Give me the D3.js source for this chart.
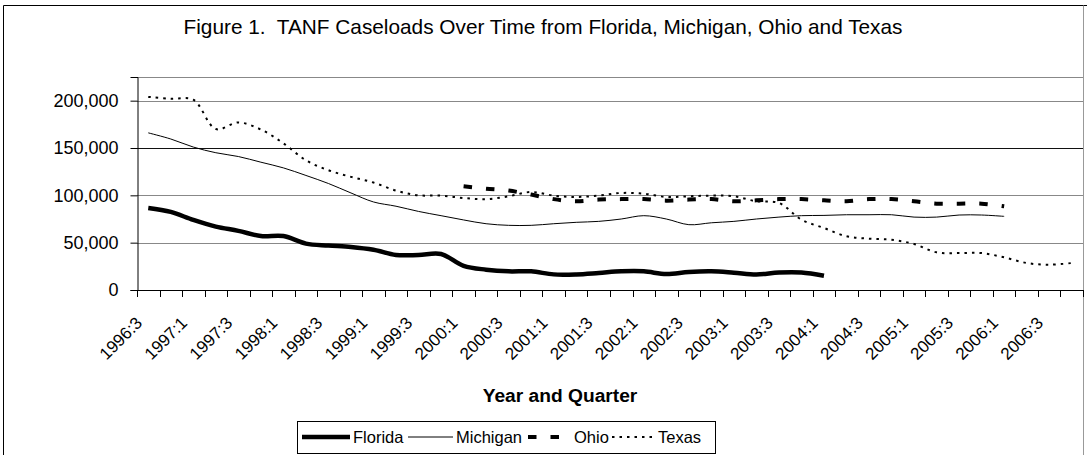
<!DOCTYPE html>
<html>
<head>
<meta charset="utf-8">
<script src="https://cdn.jsdelivr.net/npm/d3@7"></script>
<style>
  body { margin: 0; background: #fff; }
  svg { display: block; font-family: "Liberation Sans", Arial, sans-serif; }
</style>
</head>
<body>
<svg width="1087" height="455"></svg>
<script>
// categories (year:quarter)
var quarters = [
  "1996:3", "1996:4",
  "1997:1", "1997:2", "1997:3", "1997:4",
  "1998:1", "1998:2", "1998:3", "1998:4",
  "1999:1", "1999:2", "1999:3", "1999:4",
  "2000:1", "2000:2", "2000:3", "2000:4",
  "2001:1", "2001:2", "2001:3", "2001:4",
  "2002:1", "2002:2", "2002:3", "2002:4",
  "2003:1", "2003:2", "2003:3", "2003:4",
  "2004:1", "2004:2", "2004:3", "2004:4",
  "2005:1", "2005:2", "2005:3", "2005:4",
  "2006:1", "2006:2", "2006:3", "2006:4"
];

// caseloads (null = no data)
var florida = [86700, 82500, 74000, 67000, 62500, 57000, 57000, 49000, 47000, 45500,
  42500, 37000, 37000, 38000, 25500, 21500, 19700, 19700, 16500, 16500,
  18000, 19700, 19700, 16800, 19000, 19700, 18300, 16500, 18500, 18500, 15000];
var michigan = [166000, 159500, 151000, 145000, 141000, 135000, 129000, 121000, 112500, 102500,
  93000, 88500, 83000, 78500, 74000, 70000, 68300, 68300, 70000, 71500,
  72500, 75000, 78500, 75000, 69000, 71000, 72500, 75000, 77000, 78500,
  78800, 79500, 79500, 79500, 77000, 77000, 79200, 79200, 77800];
var ohio = [null, null, null, null, null, null, null, null, null, null,
  null, null, null, null, 109500, 107000, 105000, 100800, 96000, 93700,
  95500, 96000, 96000, 94400, 95500, 96000, 93700, 94700, 96000, 96000,
  94700, 93700, 96000, 96000, 93700, 91200, 91200, 91200, 88400];
var texas = [204000, 202000, 201000, 170000, 177000, 169500, 155000, 137000, 126500, 119500,
  113500, 105000, 100000, 99700, 97200, 96000, 99000, 103500, 99700, 98300,
  99700, 102500, 101800, 98300, 99000, 99700, 99000, 93700, 92000, 74300,
  65500, 56700, 54200, 53000, 48600, 39800, 39000, 39000, 34500, 28500,
  26700, 28500];

var seriesNames = ["Florida", "Michigan", "Ohio", "Texas"];
var seriesValues = [florida, michigan, ohio, texas];
var yTicks = [0, 50000, 100000, 150000, 200000];

var titleText = "Figure 1.  TANF Caseloads Over Time from Florida, Michigan, Ohio and Texas";
var xTitle = "Year and Quarter";

// line styles per series (legend sample start + length too)
var styles = {
  Florida: { width: 4.5, dash: null, lx: 302, len: 48 },
  Michigan: { width: 1, dash: null, lx: 408, len: 45 },
  Ohio: { width: 4, dash: "8.5,14", lx: 528, len: 43 },
  Texas: { width: 2, dash: "2.5,5", lx: 612, len: 43 }
};

var svg = d3.select("svg");
var plot = { left: 137, right: 1083, top: 77, bottom: 290 };

var xScale = d3.scaleBand(quarters, [plot.left, plot.right]).padding(0);
var yScale = d3.scaleLinear([0, 225000], [plot.bottom, plot.top]);
var cx = function (q) { return xScale(q) + xScale.bandwidth() / 2; };

// outer chart border
svg.append("line").attr("x1", 3.5).attr("x2", 3.5).attr("y1", 5.5).attr("y2", 460)
  .attr("stroke", "#000");
svg.append("line").attr("x1", 3.5).attr("x2", 1087).attr("y1", 5.5).attr("y2", 5.5)
  .attr("stroke", "#000");
svg.append("line").attr("x1", 1083.5).attr("x2", 1083.5).attr("y1", 5.5).attr("y2", 460)
  .attr("stroke", "#999");

// title
svg.append("text")
  .attr("x", 543).attr("y", 34)
  .attr("text-anchor", "middle")
  .style("font-size", "20.8px")
  .style("white-space", "pre")
  .text(titleText);

// plot area top border
svg.append("line")
  .attr("x1", plot.left).attr("x2", plot.right)
  .attr("y1", plot.top + 0.5).attr("y2", plot.top + 0.5)
  .attr("stroke", "#888");

// gridlines
svg.append("g").selectAll("line")
  .data(yTicks.filter(function (d) { return d > 0; }))
  .join("line")
  .attr("x1", plot.left).attr("x2", plot.right)
  .attr("y1", function (d) { return Math.round(yScale(d)) + 0.5; })
  .attr("y2", function (d) { return Math.round(yScale(d)) + 0.5; })
  .attr("stroke", function (d) { return d === 150000 ? "#111" : "#888"; });

// y axis
var yAxis = svg.append("g")
  .attr("transform", "translate(" + (plot.left + 0.5) + ",0)")
  .call(d3.axisLeft(yScale).tickValues(yTicks).tickSize(7).tickPadding(12)
    .tickFormat(d3.format(",")));
yAxis.select(".domain").attr("stroke", "#000");
yAxis.selectAll("text").style("font-size", "18px").style("font-family", "inherit").attr("fill", "#000");

// x axis line and boundary ticks
var boundaries = quarters.map(function (q) { return xScale(q); }).concat([plot.right]);
svg.append("line")
  .attr("x1", plot.left).attr("x2", plot.right)
  .attr("y1", plot.bottom + 0.5).attr("y2", plot.bottom + 0.5)
  .attr("stroke", "#000");
svg.append("g").selectAll("line")
  .data(boundaries)
  .join("line")
  .attr("x1", function (d) { return Math.round(d) + 0.5; })
  .attr("x2", function (d) { return Math.round(d) + 0.5; })
  .attr("y1", plot.bottom).attr("y2", plot.bottom + 7)
  .attr("stroke", "#000");

// rotated labels every other quarter
svg.append("g").selectAll("text")
  .data(quarters.filter(function (q, i) { return i % 2 === 0; }))
  .join("text")
  .attr("transform", function (q) {
    return "translate(" + (cx(q) - 5) + "," + (plot.bottom + 34) + ") rotate(-45)";
  })
  .attr("text-anchor", "end")
  .style("font-size", "17px")
  .text(function (q) { return q; });

svg.append("text")
  .attr("x", 560).attr("y", 402)
  .attr("text-anchor", "middle")
  .style("font-size", "19.2px").style("font-weight", "bold")
  .text(xTitle);

// series lines
var line = d3.line()
  .defined(function (d) { return d.v != null; })
  .x(function (d) { return cx(d.q); })
  .y(function (d) { return yScale(d.v); })
  .curve(d3.curveCatmullRom);

var series = seriesNames.map(function (name, i) {
  return {
    name: name,
    points: quarters.map(function (q, j) {
      var v = seriesValues[i][j];
      return { q: q, v: v === undefined ? null : v };
    })
  };
});

svg.append("g").selectAll("path")
  .data(series)
  .join("path")
  .attr("d", function (s) { return line(s.points); })
  .attr("fill", "none")
  .attr("stroke", "#000")
  .attr("stroke-width", function (s) { return styles[s.name].width; })
  .attr("stroke-dasharray", function (s) { return styles[s.name].dash; })
  .attr("stroke-linejoin", "round");

// legend
var legend = svg.append("g");
legend.append("rect")
  .attr("x", 297.5).attr("y", 421.5).attr("width", 418).attr("height", 32)
  .attr("fill", "#fff").attr("stroke", "#000");

var legendY = 437;
var item = legend.selectAll("g.item")
  .data(seriesNames)
  .join("g")
  .attr("class", "item");
item.append("line")
  .attr("x1", function (d) { return styles[d].lx; })
  .attr("x2", function (d) { return styles[d].lx + styles[d].len; })
  .attr("y1", legendY).attr("y2", legendY)
  .attr("stroke", "#000")
  .attr("stroke-width", function (d) { return styles[d].width; })
  .attr("stroke-dasharray", function (d) { return styles[d].dash; });
item.append("text")
  .attr("x", function (d) { return styles[d].lx + styles[d].len + 3; })
  .attr("y", legendY)
  .attr("dy", "0.35em")
  .style("font-size", "16.5px")
  .text(function (d) { return d; });
</script>
</body>
</html>
